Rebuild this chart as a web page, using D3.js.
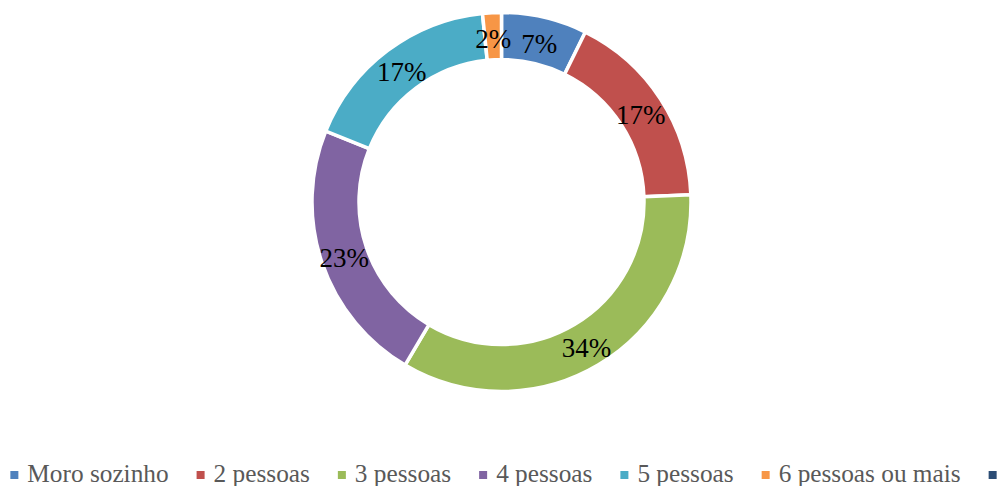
<!DOCTYPE html>
<html>
<head>
    <meta charset="utf-8">
    <title>Moradores por domicílio</title>
    <script src="https://d3js.org/d3.v7.min.js"></script>
    <style>
        html, body { margin: 0; padding: 0; background: #fff; }
        svg { display: block; }
    </style>
</head>
<body>
<svg id="chart" width="1000" height="486"></svg>
<script>
    // categories and shares (percent)
    var categories = ['Moro sozinho', '2 pessoas', '3 pessoas', '4 pessoas', '5 pessoas', '6 pessoas ou mais', ''];
    var values = [7.3, 17.1, 34.1, 22.6, 17.3, 1.6, 0];
    var colors = ['#4F81BD', '#C0504D', '#9BBB59', '#8064A2', '#4BACC6', '#F79646', '#2C4D75'];

    var svg = d3.select('#chart');
    var cx = 501.5, cy = 202;
    var outerR = 189.5, innerR = 142.5;

    var data = categories.map(function(c, i) { return {name: c, value: values[i], color: colors[i]}; });
    var total = d3.sum(values);
    var fmt = d3.format('.0%');

    var pie = d3.pie().sort(null).value(function(d) { return d.value; });
    var arc = d3.arc().innerRadius(innerR).outerRadius(outerR);
    var labelArc = d3.arc().innerRadius((innerR + outerR) / 2).outerRadius((innerR + outerR) / 2);

    var g = svg.append('g').attr('transform', 'translate(' + cx + ',' + cy + ')');
    var arcs = pie(data).filter(function(d) { return d.data.value > 0; });

    g.selectAll('path')
        .data(arcs)
        .enter().append('path')
        .attr('d', arc)
        .attr('fill', function(d) { return d.data.color; })
        .attr('stroke', '#fff')
        .attr('stroke-width', 3.5)
        .attr('stroke-linejoin', 'miter');

    g.selectAll('text.lbl')
        .data(arcs)
        .enter().append('text')
        .attr('class', 'lbl')
        .attr('transform', function(d) { return 'translate(' + labelArc.centroid(d) + ')'; })
        .attr('text-anchor', 'middle')
        .attr('dy', '0.45em')
        .style('font-family', '"Liberation Serif", "Times New Roman", serif')
        .style('font-size', '27px')
        .style('fill', '#000')
        .text(function(d) { return fmt(d.data.value / total); });

    // legend, laid out in one row and centred like Excel does
    var legend = svg.append('g');
    var items = legend.selectAll('g')
        .data(data)
        .enter().append('g');

    items.append('rect')
        .attr('width', 8)
        .attr('height', 8)
        .attr('y', 471)
        .attr('fill', function(d) { return d.color; });

    items.append('text')
        .attr('x', 17)
        .attr('y', 482)
        .style('font-family', '"Liberation Serif", "Times New Roman", serif')
        .style('font-size', '25.3px')
        .style('fill', '#595959')
        .text(function(d) { return d.name; });

    var x = 0;
    items.each(function(d) {
        var t = d3.select(this).select('text').node();
        var w = d.name === '' ? 8 : 17 + t.getComputedTextLength();
        d3.select(this).attr('transform', 'translate(' + x + ',0)');
        x += w + 28;
    });
    var legendW = x - 28;
    legend.attr('transform', 'translate(' + (503.5 - legendW / 2) + ',0)');
</script>
</body>
</html>
